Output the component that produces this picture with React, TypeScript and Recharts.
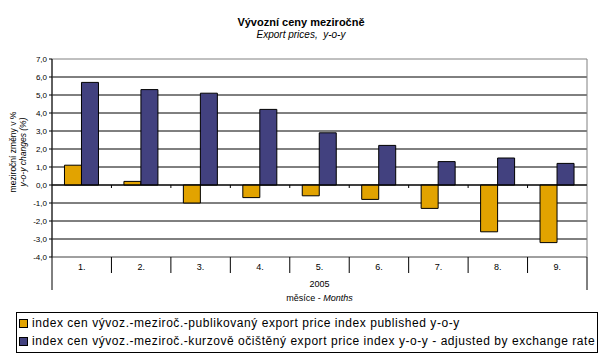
import React from "react";
import {
  BarChart,
  Bar,
  XAxis,
  YAxis,
  CartesianGrid,
  ReferenceLine,
  ReferenceArea,
} from "recharts";

const months = ["1.", "2.", "3.", "4.", "5.", "6.", "7.", "8.", "9."];
const published = [1.1, 0.2, -1.0, -0.7, -0.6, -0.8, -1.3, -2.6, -3.2];
const adjusted = [5.7, 5.3, 5.1, 4.2, 2.9, 2.2, 1.3, 1.5, 1.2];
const yTicks = [-4, -3, -2, -1, 0, 1, 2, 3, 4, 5, 6, 7];

const seriesNames = [
  "index cen vývoz.-meziroč.-publikovaný export price index published y-o-y",
  "index cen vývoz.-meziroč.-kurzově očištěný export price index y-o-y - adjusted by exchange rate",
];
const seriesColors = ["#E2A300", "#42417F"];

const data = months.map((m, i) => ({
  month: m,
  published: published[i],
  adjusted: adjusted[i],
}));

const W = 602;
const H = 355;
const Y_W = 52;
const M_RIGHT = 15;
const bandW = (W - Y_W - M_RIGHT) / months.length;
const font = "Arial, 'Liberation Sans', sans-serif";
const gray = "#808080";

const fmt = (v: number) => v.toFixed(1).replace(".", ",");

// month label + separators under the plot
const MonthTick = (props: any) => {
  const { x, y, payload, index } = props;
  const last = index === months.length - 1;
  return (
    <g>
      {index === 0 && (
        <line x1={x - bandW / 2} y1={y} x2={x - bandW / 2} y2={y + 33} stroke="#000" />
      )}
      <line
        x1={x + bandW / 2}
        y1={y}
        x2={x + bandW / 2}
        y2={y + (last ? 33 : 16)}
        stroke="#000"
      />
      <text x={x} y={y + 13} textAnchor="middle" fontSize={9} fontFamily={font} fill="#000">
        {payload.value}
      </text>
    </g>
  );
};

const XLabel = (props: any) => {
  const vb = props.viewBox || {};
  const cx = vb.x + vb.width / 2;
  return (
    <g fontFamily={font} fontSize={9} fill="#000">
      <text x={cx} y={vb.y + 30} textAnchor="middle">2005</text>
      <text x={cx} y={vb.y + 44} textAnchor="middle">
        měsíce - <tspan fontStyle="italic">Months</tspan>
      </text>
    </g>
  );
};

const YLabel = () => {
  const cy = 152;
  return (
    <g fontFamily={font} fontSize={8.5} fill="#000">
      <text x={13} y={cy} transform={`rotate(-90, 13, ${cy})`} textAnchor="middle" dominantBaseline="central">
        meziroční změny v %
      </text>
      <text x={23} y={cy} transform={`rotate(-90, 23, ${cy})`} textAnchor="middle" dominantBaseline="central" fontStyle="italic">
        y-o-y changes (%)
      </text>
    </g>
  );
};

// zero axis with small ticks between the categories
const ZeroLine = (p: any) => {
  const { x1, y1, x2 } = p;
  const step = (x2 - x1) / months.length;
  return (
    <g>
      <line x1={x1} y1={y1} x2={x2} y2={y1} stroke="#000" />
      {months.slice(1).map((_, i) => (
        <line key={i} x1={x1 + step * (i + 1)} y1={y1} x2={x1 + step * (i + 1)} y2={y1 + 3} stroke="#000" />
      ))}
    </g>
  );
};

export default function App() {
  return (
    <div style={{ position: "absolute", left: 0, top: 0, width: W, height: H, background: "#fff", fontFamily: font }}>
      <div style={{ position: "absolute", left: 0, width: W, top: 16, textAlign: "center", fontSize: 11, fontWeight: "bold", lineHeight: "13px" }}>
        Vývozní ceny meziročně
      </div>
      <div style={{ position: "absolute", left: 0, width: W, top: 29, textAlign: "center", fontSize: 10, fontStyle: "italic", lineHeight: "12px" }}>
        Export prices,&nbsp; y-o-y
      </div>

      <BarChart
        width={W}
        height={H}
        data={data}
        margin={{ top: 59, right: M_RIGHT, left: 0, bottom: 0 }}
        barCategoryGap="21%"
        barGap={0}
      >
        <CartesianGrid
          vertical={false}
          stroke="#000"
          horizontalValues={yTicks.filter((v) => v > -4 && v < 7)}
        />
        <ReferenceArea y1={-4} y2={7} fill="none" stroke={gray} strokeOpacity={1} fillOpacity={0} />
        <XAxis
          dataKey="month"
          height={98}
          axisLine={{ stroke: gray }}
          tickLine={false}
          tickSize={0}
          tickMargin={0}
          tick={<MonthTick />}
          interval={0}
          label={{ content: <XLabel /> }}
        />
        <YAxis
          width={Y_W}
          domain={[-4, 7]}
          ticks={yTicks}
          interval={0}
          tickFormatter={fmt}
          axisLine={{ stroke: "#000" }}
          tickLine={{ stroke: "#000" }}
          tickSize={3}
          tickMargin={2}
          tick={{ fontSize: 8, fontFamily: font, fill: "#000" }}
          label={{ content: <YLabel /> }}
        />
        <Bar dataKey="published" name={seriesNames[0]} fill={seriesColors[0]} stroke="#000" strokeWidth={1} isAnimationActive={false} />
        <Bar dataKey="adjusted" name={seriesNames[1]} fill={seriesColors[1]} stroke="#000" strokeWidth={1} isAnimationActive={false} />
        <ReferenceLine y={0} shape={<ZeroLine />} />
      </BarChart>

      <div
        style={{
          position: "absolute",
          left: 16,
          top: 312,
          width: 580,
          height: 38,
          border: "1px solid #000",
          fontSize: 12,
          letterSpacing: 0.55,
          lineHeight: "18px",
          paddingTop: 1,
        }}
      >
        {seriesNames.map((n, i) => (
          <div key={n} style={{ display: "flex", alignItems: "center", whiteSpace: "nowrap" }}>
            <span style={{ display: "inline-block", width: 7, height: 7, background: seriesColors[i], border: "1px solid #000", margin: "0 4px 0 2px" }} />
            <span>{n}</span>
          </div>
        ))}
      </div>
    </div>
  );
}
